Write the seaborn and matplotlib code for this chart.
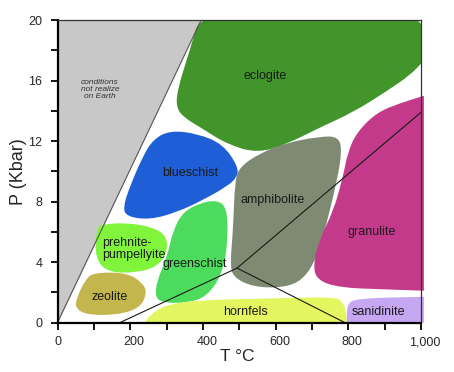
import numpy as np
import matplotlib
matplotlib.use("Agg")
import matplotlib.pyplot as plt
import matplotlib.transforms as mtransforms
from matplotlib.path import Path
from matplotlib.patches import PathPatch
import seaborn as sns

# ---- facies outlines (T in deg C, P in kbar) ----
eclogite_T = [400, 360, 331, 326, 345, 400, 466, 549, 631, 722, 813, 906, 972, 1003, 1010, 1010]
eclogite_P = [21.0, 17.7, 15.5, 14.3, 13.6, 12.8, 11.8, 11.2, 11.8, 12.9, 13.9, 15.3, 16.4, 17.2, 17.3, 21.0]

blueschist_T = [309, 384, 455, 497, 494, 466, 400, 329, 254, 191, 180, 199, 235, 263]
blueschist_P = [12.7, 12.5, 11.8, 10.3, 9.6, 9.0, 8.1, 7.3, 6.8, 7.0, 7.6, 9.0, 11.0, 12.1]

prehnite_T = [125, 191, 263, 301, 301, 274, 219, 144, 109, 103, 111]
prehnite_P = [6.5, 6.6, 6.3, 5.7, 4.6, 3.7, 3.3, 3.3, 4.0, 5.3, 6.3]

zeolite_T = [98, 191, 235, 246, 227, 164, 81, 48, 54, 76]
zeolite_P = [3.3, 3.3, 2.6, 1.95, 0.96, 0.5, 0.5, 0.96, 1.7, 2.8]

greenschist_T = [439, 466, 469, 455, 411, 356, 290, 268, 274, 301, 318, 345, 392]
greenschist_P = [8.1, 7.6, 5.5, 3.3, 1.7, 1.3, 1.3, 1.7, 2.8, 4.3, 6.1, 7.3, 7.9]

amphibolite_T = [772, 783, 769, 741, 714, 675, 620, 538, 483, 475, 483, 488, 502, 557, 631, 722]
amphibolite_P = [12.3, 11.4, 9.4, 6.6, 4.3, 2.8, 2.3, 2.35, 3.0, 3.9, 6.1, 9.4, 10.3, 11.2, 11.9, 12.3]

granulite_T = [1008, 1008, 942, 879, 824, 799, 785, 758, 722, 703, 714, 777, 895, 1008, 1008]
granulite_P = [15.0, 15.0, 14.5, 13.9, 12.6, 11.3, 9.6, 7.3, 5.6, 3.8, 2.8, 2.3, 2.2, 2.1, 2.1]

hornfels_T = [241, 241, 254, 296, 392, 612, 763, 785, 794, 796, 796]
hornfels_P = [0, 0, 0.5, 1.16, 1.5, 1.6, 1.7, 1.35, 0.7, 0, 0]

sanidinite_T = [796, 796, 796, 818, 1008, 1008, 1008, 1008]
sanidinite_P = [0, 0, 1.15, 1.6, 1.7, 1.7, 0, 0]

# region not realised on Earth
gray_T = [0, 0, 395]
gray_P = [0, 20, 20]

# facies boundary lines
line1_T = [172, 494, 1000]
line1_P = [0, 3.6, 13.9]
line2_T = [494, 790]
line2_P = [3.6, 0]

facies = ["eclogite", "blueschist", "prehnite-\npumpellyite", "zeolite", "greenschist",
          "amphibolite", "granulite", "hornfels", "sanidinite"]
label_T = [571, 364, 122, 144, 378, 593, 865, 516, 882]
label_P = [16.3, 9.9, 4.85, 1.7, 3.9, 8.1, 6.0, 0.7, 0.7]

x_ticks = [0, 200, 400, 600, 800, 1000]
x_labels = ["0", "200", "400", "600", "800", "1,000"]
y_ticks = [0, 4, 8, 12, 16, 20]


def blob(ax, T, P, color, clip=True):
    # rounded outline: quadratic curves through edge midpoints
    pts = np.column_stack([T, P]).astype(float)
    mids = (pts + np.roll(pts, -1, axis=0)) / 2
    verts = [mids[-1]]
    codes = [Path.MOVETO]
    for i in range(len(pts)):
        verts += [pts[i], mids[i]]
        codes += [Path.CURVE3, Path.CURVE3]
    patch = PathPatch(Path(verts, codes), fc=color, ec="none", zorder=1)
    patch.set_clip_on(clip)
    ax.add_patch(patch)


sns.set_style("ticks")
plt.rcParams["font.family"] = ["Liberation Sans", "DejaVu Sans"]

fig = plt.figure(figsize=(4.54, 3.72), dpi=100)
ax = fig.add_axes([0.1267, 0.133, 0.8006, 0.813])

ax.fill(gray_T, gray_P, color="#c8c8c8", lw=0, zorder=0.5)
sns.lineplot(x=[gray_T[0], gray_T[2]], y=[gray_P[0], gray_P[2]], color="#555555",
             lw=0.8, sort=False, estimator=None, ax=ax)

blob(ax, eclogite_T, eclogite_P, "#42952a")
blob(ax, blueschist_T, blueschist_P, "#1e5ed6")
blob(ax, prehnite_T, prehnite_P, "#80f53c")
blob(ax, zeolite_T, zeolite_P, "#c2b64c")
blob(ax, greenschist_T, greenschist_P, "#4cdb5c")
blob(ax, amphibolite_T, amphibolite_P, "#7e8a72")
blob(ax, granulite_T, granulite_P, "#c33a8b", clip=False)
blob(ax, hornfels_T, hornfels_P, "#e3f55f")
blob(ax, sanidinite_T, sanidinite_P, "#c6a7f2", clip=False)

sns.lineplot(x=line1_T, y=line1_P, color="#1a1a1a", lw=0.8, sort=False, estimator=None, ax=ax)
sns.lineplot(x=line2_T, y=line2_P, color="#1a1a1a", lw=0.8, sort=False, estimator=None, ax=ax)

for name, t, p in zip(facies, label_T, label_P):
    ha = "left" if name.startswith("prehnite") else "center"
    ax.text(t, p, name, ha=ha, va="center", fontsize=9, color="#1a1a1a",
            linespacing=1.0, zorder=5)

ax.text(117, 15.4, "conditions\nnot realize\non Earth", ha="center", va="center",
        fontsize=6, style="italic", color="#333333", linespacing=1.05, zorder=5)

ax.set_xlim(0, 1000)
ax.set_ylim(0, 20)
ax.set_xticks(x_ticks)
ax.set_xticklabels(x_labels)
ax.set_xticks(np.arange(100, 1000, 200), minor=True)
ax.set_yticks(y_ticks)
ax.set_yticks([2, 6, 10, 14, 18], minor=True)
ax.tick_params(which="both", direction="out", length=5, width=1.3, color="black",
               labelsize=9)
ax.tick_params(axis="x", pad=5)
ax.tick_params(axis="y", pad=6)

# the original x labels sit a few pixels right of their ticks
shift = mtransforms.ScaledTranslation(4 / 100, 0, fig.dpi_scale_trans)
for lab in ax.get_xticklabels()[1:]:
    lab.set_transform(lab.get_transform() + shift)

ax.set_xlabel("T °C", fontsize=12.5)
ax.set_ylabel("P (Kbar)", fontsize=13)
ax.xaxis.set_label_coords(0.494, -0.088)
ax.yaxis.set_label_coords(-0.085, 0.5)

for side in ["left", "bottom"]:
    ax.spines[side].set_linewidth(1.6)
    ax.spines[side].set_color("black")
for side in ["top", "right"]:
    ax.spines[side].set_linewidth(0.9)
    ax.spines[side].set_color("#333333")

fig.savefig("out.png", dpi=100)
